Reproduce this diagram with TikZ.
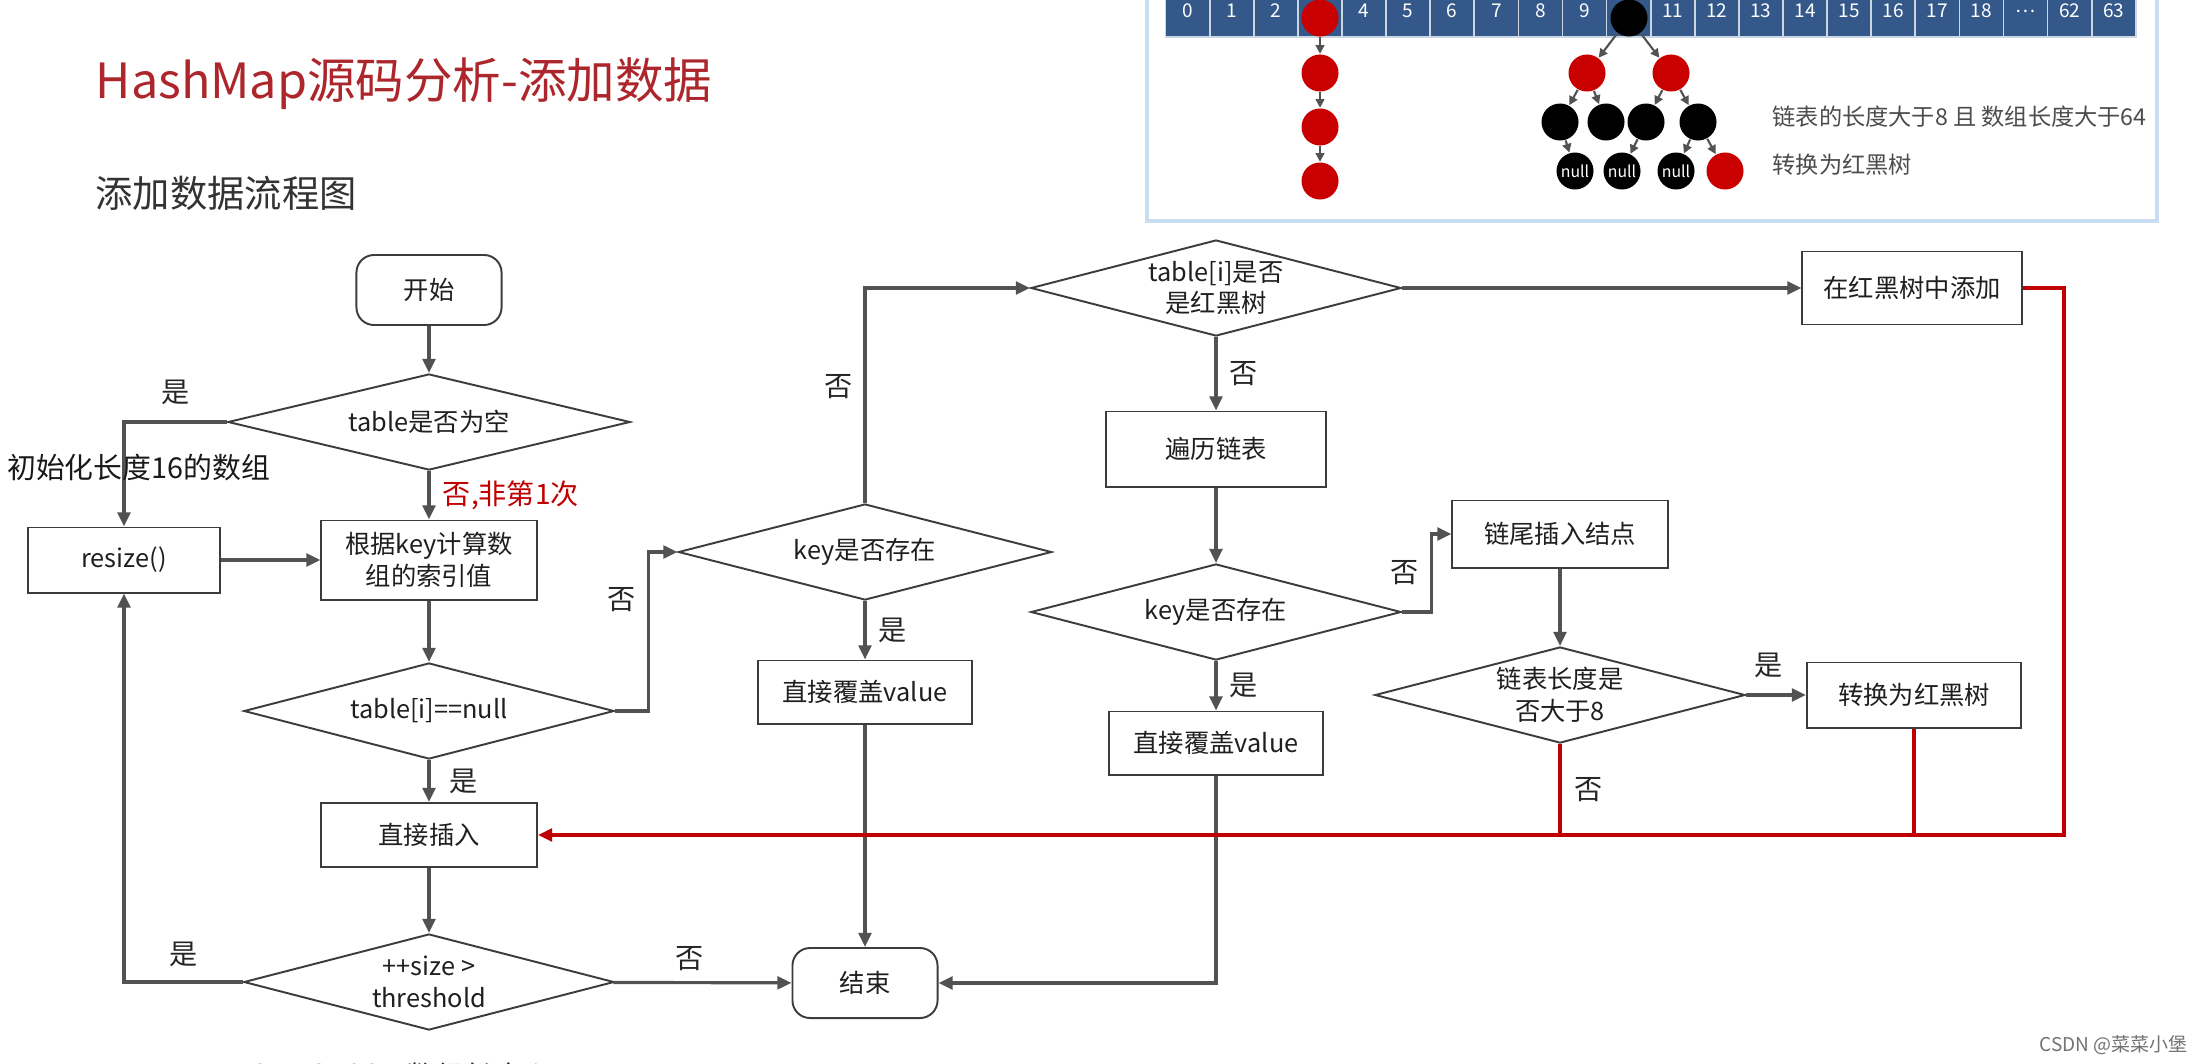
\documentclass[tikz,border=0pt]{standalone}
\usepackage{fontspec}
\setmainfont{Noto Sans CJK SC}
\usepackage{xcolor}
\usepackage{tikz}
\usetikzlibrary{shapes.geometric, arrows.meta}

\definecolor{flowgray}{RGB}{82,82,82}
\definecolor{edgegray}{RGB}{60,60,60}
\definecolor{backred}{RGB}{192,0,0}
\definecolor{titlered}{RGB}{172,38,44}
\definecolor{slotblue}{RGB}{52,88,138}
\definecolor{rbred}{RGB}{200,0,0}
\definecolor{panelblue}{RGB}{200,220,242}

\begin{document}
\begin{tikzpicture}[
  x=0.01cm, y=-0.01cm,
  font=\fontsize{7.2pt}{9pt}\selectfont,
  >={Triangle[length=4pt,width=3.6pt]},
  proc/.style={rectangle,draw=edgegray,line width=0.55pt,align=center,inner sep=1pt,text=black!88},
  term/.style={proc,rounded corners=5pt,minimum width=1.45cm,minimum height=0.7cm},
  decide/.style={diamond,draw=edgegray,line width=0.55pt,aspect=3.85,minimum width=3.7cm,minimum height=0.96cm,inner sep=0pt,align=center,text=black!88},
  flow/.style={draw=flowgray,line width=0.9pt,->},
  back/.style={draw=backred,line width=1pt},
  lbl/.style={font=\fontsize{8pt}{10pt}\selectfont,text=black!85,inner sep=1pt},
  slot/.style={rectangle,draw=white!75!slotblue,fill=slotblue,line width=0.5pt,minimum width=0.441cm,minimum height=0.52cm,text=white,font=\fontsize{5.4pt}{6pt}\selectfont,inner sep=0pt},
  rnode/.style={circle,fill=rbred,minimum size=0.37cm,inner sep=0pt},
  bnode/.style={circle,fill=black,minimum size=0.37cm,inner sep=0pt,text=white,font=\fontsize{4.5pt}{5pt}\selectfont},
  tedge/.style={draw=flowgray,line width=0.6pt,-{Triangle[length=2.5pt,width=2.5pt]}}
]
\useasboundingbox (0,0) rectangle (2197,1063);
\clip (0,0) rectangle (2197,1063);
\fill[white] (0,0) rectangle (2197,1063);

% Titles
\node[anchor=west,inner sep=0pt,text=titlered,font=\fontsize{13.8pt}{16pt}\selectfont] (title) at (95,84) {HashMap源码分析-添加数据};
\node[anchor=west,inner sep=0pt,text=black!80,font=\fontsize{10.6pt}{12pt}\selectfont] (subtitle) at (95,193) {添加数据流程图};

% Red-black tree panel
\draw[panelblue,line width=1.2pt,fill=white] (1147,-20) rectangle (2157,221);
\foreach \lab [count=\i from 0] in {0,1,2,{},4,5,6,7,8,9,{},11,12,13,14,15,16,17,18,\ldots,62,63}
  \node[slot] (cell\i) at ({1165.6+44.1*(\i+0.5)},11) {\lab};

\node[rnode] (h3) at (1320,18) {};
\node[rnode] (l1) at (1320,73) {};
\node[rnode] (l2) at (1320,127) {};
\node[rnode] (l3) at (1320,181) {};
\draw[tedge] (h3) -- (l1);
\draw[tedge] (l1) -- (l2);
\draw[tedge] (l2) -- (l3);

\node[bnode] (t0) at (1629,18) {};
\node[rnode] (t1) at (1587,73) {};
\node[rnode] (t2) at (1671,73) {};
\node[bnode] (t3) at (1560,122) {};
\node[bnode] (t4) at (1606,122) {};
\node[bnode] (t5) at (1646,122) {};
\node[bnode] (t6) at (1698,122) {};
\node[bnode] (t7) at (1575,171) {null};
\node[bnode] (t8) at (1622,171) {null};
\node[bnode] (t9) at (1676,171) {null};
\node[rnode] (t10) at (1725,171) {};
\foreach \a/\b in {t0/t1,t0/t2,t1/t3,t1/t4,t2/t5,t2/t6,t3/t7,t5/t8,t6/t9,t6/t10}
  \draw[tedge] (\a) -- (\b);

\node[anchor=west,inner sep=0pt,text=black!70,font=\fontsize{6.6pt}{8pt}\selectfont] (rbnote) at (1772,117) {链表的长度大于8 且 数组长度大于64};
\node[anchor=west,inner sep=0pt,text=black!70,font=\fontsize{6.6pt}{8pt}\selectfont] (rbnoteb) at (1772,165) {转换为红黑树};

% Flow chart nodes
\node[term] (start) at (429,290) {开始};
\node[decide,minimum width=4.02cm] (isempty) at (429,422) {table是否为空};
\node[proc,minimum width=1.91cm,minimum height=0.65cm] (resize) at (124,560) {resize()};
\node[proc,minimum width=2.15cm,minimum height=0.79cm] (index) at (429,560) {根据key计算数\\组的索引值};
\node[decide] (isnull) at (429,711) {table[i]==null};
\node[proc,minimum width=2.16cm,minimum height=0.64cm] (insert) at (429,835) {直接插入};
\node[decide] (resizeq) at (429,982) {++size >\\threshold};
\node[term] (finish) at (865,983) {结束};
\node[decide,minimum width=3.73cm] (haskey) at (865,552) {key是否存在};
\node[proc,minimum width=2.13cm,minimum height=0.63cm] (cover) at (865,692) {直接覆盖value};
\node[decide] (istree) at (1216,288) {table[i]是否\\是红黑树};
\node[proc,minimum width=2.19cm,minimum height=0.73cm] (treeadd) at (1912,288) {在红黑树中添加};
\node[proc,minimum width=2.2cm,minimum height=0.75cm] (walk) at (1216,449) {遍历链表};
\node[decide] (haskeyb) at (1216,612) {key是否存在};
\node[proc,minimum width=2.13cm,minimum height=0.63cm] (coverb) at (1216,743) {直接覆盖value};
\node[proc,minimum width=2.15cm,minimum height=0.67cm] (tail) at (1560,534) {链尾插入结点};
\node[decide] (toolong) at (1560,695) {链表长度是\\否大于8};
\node[proc,minimum width=2.14cm,minimum height=0.65cm] (treeify) at (1914,695) {转换为红黑树};
\coordinate (busend) at (2064,835);

% Flow chart connectors
\draw[flow] (start) -- (isempty);
\draw[flow] (isempty.west) -| node[lbl,pos=0.25,above=3.5pt]{是} (resize.north);
\node[lbl,anchor=west,font=\fontsize{8.2pt}{10pt}\selectfont,text=black!90] (initnote) at (3,467) {初始化长度16的数组};
\draw[flow] (resize) -- (index);
\draw[flow] (isempty) -- node[lbl,right=2.5pt,text=backred]{否,非第1次} (index);
\draw[flow] (index) -- (isnull);
\draw[flow] (isnull) -- node[lbl,right=4.5pt]{是} (insert);
\draw[flow] (insert) -- (resizeq);
\draw[flow] (resizeq.west) -| node[lbl,pos=0.25,above=3pt]{是} (resize.south);
\draw[flow] (resizeq) -- node[lbl,pos=0.43,above=2pt]{否} (finish);
\draw[flow] (isnull.east) -- ++(33,0) |- node[lbl,pos=0.35,left=2pt]{否} (haskey.west);
\draw[flow] (haskey.north) |- node[lbl,pos=0.27,left=2pt]{否} (istree.west);
\draw[flow] (haskey) -- node[lbl,right=2.5pt]{是} (cover);
\draw[flow] (cover) -- (finish);
\draw[flow] (istree) -- (treeadd);
\draw[flow] (istree) -- node[lbl,right=2.5pt]{否} (walk);
\draw[flow] (walk) -- (haskeyb);
\draw[flow] (haskeyb) -- node[lbl,right=2.5pt]{是} (coverb);
\draw[flow] (coverb.south) |- (finish.east);
\draw[flow] (haskeyb.east) -- ++(29,0) |- node[lbl,pos=0.25,left=2pt]{否} (tail.west);
\draw[flow] (tail) -- (toolong);
\draw[flow] (toolong) -- node[lbl,pos=0.37,above=3.5pt]{是} (treeify);

% Back to insert
\draw[back,->] (treeadd.east) -| (busend) -- (insert.east);
\draw[back] (toolong.south) -- node[lbl,right=2.5pt]{否} (toolong.south |- busend);
\draw[back] (treeify.south) -- (treeify.south |- busend);

% Cut-off note and mark
\node[lbl,font=\fontsize{8.3pt}{10pt}\selectfont] (thresh) at (426,1076) {threshold = 数组长度 * 0.75};
\node[anchor=east,inner sep=0pt,text=black!55,font=\fontsize{5.4pt}{6pt}\selectfont] (mark) at (2188,1045) {CSDN @菜菜小堡};
\end{tikzpicture}
\end{document}
